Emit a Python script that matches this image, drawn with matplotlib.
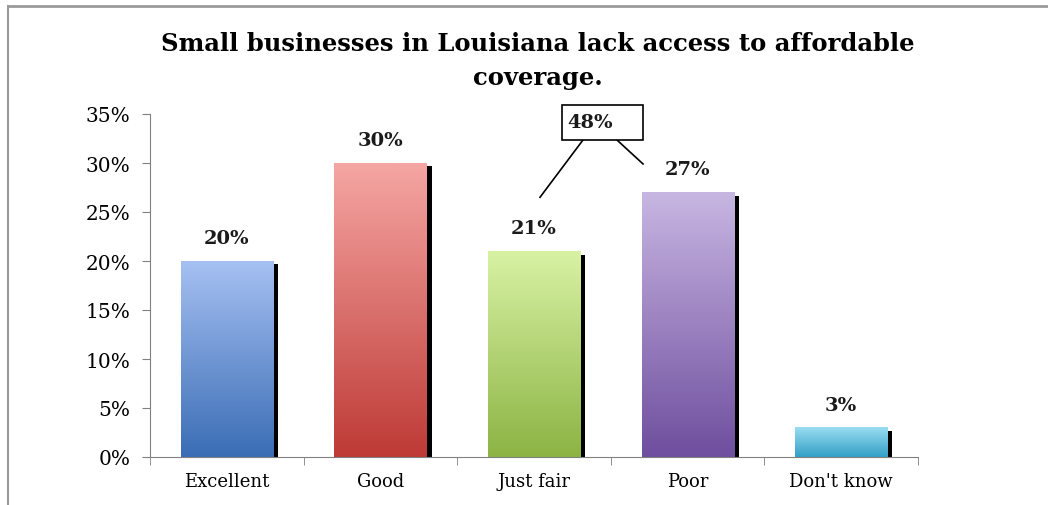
import matplotlib
matplotlib.use("Agg")
import matplotlib.pyplot as plt
import numpy as np
from matplotlib.colors import LinearSegmentedColormap
from matplotlib.patches import Rectangle

categories = ["Excellent", "Good", "Just fair", "Poor", "Don't know"]
values = [20, 30, 21, 27, 3]
top_colors = ["#A6C0F2", "#F5A6A3", "#D8F2A4", "#C8B6E2", "#9ADCF2"]
bottom_colors = ["#3A6DB5", "#BE3A36", "#8CB444", "#6E4E9E", "#33A0C6"]
title = "Small businesses in Louisiana lack access to affordable\ncoverage."

plt.rcParams["font.family"] = ["DejaVu Serif"]

fig = plt.figure(figsize=(10.48, 5.06), dpi=100)
ax = fig.add_axes([150 / 1048, (506 - 458) / 506, 768 / 1048, (458 - 115) / 506])

# outer chart frame (partially visible)
fig.add_artist(plt.Line2D([8 / 1048, 1], [1 - 7 / 506, 1 - 7 / 506], color="#9a9a9a", lw=2.0, transform=fig.transFigure))
fig.add_artist(plt.Line2D([8 / 1048, 8 / 1048], [0, 1 - 7 / 506], color="#9a9a9a", lw=1.5, transform=fig.transFigure))

width = 0.6
x = np.arange(len(categories))
for i, v in enumerate(values):
    # shadow
    ax.add_patch(Rectangle((x[i] - width / 2 + 0.033, 0), width, v - 0.35,
                           facecolor="black", edgecolor="none", zorder=1))
    cmap = LinearSegmentedColormap.from_list("g%d" % i, [bottom_colors[i], top_colors[i]])
    grad = np.linspace(0, 1, 256).reshape(-1, 1)
    ax.imshow(grad, cmap=cmap, origin="lower", aspect="auto",
              extent=(x[i] - width / 2, x[i] + width / 2, 0, v), zorder=2)
    ax.text(x[i], v + 2.35, "%d%%" % v, ha="center", va="center",
            fontsize=14, fontweight="bold", color="#1a1a1a")

ax.set_xlim(-0.5, len(categories) - 0.5)
ax.set_ylim(0, 35)
ax.set_yticks(np.arange(0, 36, 5))
ax.set_yticklabels(["%d%%" % t for t in range(0, 36, 5)], fontsize=14.5)
ax.set_xticks(x)
ax.set_xticklabels(categories, fontsize=13)
ax.set_xticks(np.arange(-0.5, len(categories), 1), minor=True)
ax.tick_params(axis="x", which="major", length=0, pad=11)
ax.tick_params(axis="x", which="minor", length=6, direction="out", color="#808080")
ax.tick_params(axis="y", length=6, direction="out", color="#808080", pad=8)
for s in ["top", "right"]:
    ax.spines[s].set_visible(False)
for s in ["left", "bottom"]:
    ax.spines[s].set_color("#808080")

# combined "fair + poor" callout
combined = values[2] + values[3]
ax.add_patch(Rectangle((2.182, 32.35), 0.528, 3.57, facecolor="white",
                       edgecolor="black", lw=1.2, clip_on=False, zorder=4))
ax.text(2.215, 34.2, "%d%%" % combined, ha="left", va="center", fontsize=14,
        fontweight="bold", color="#1a1a1a", zorder=5)
ax.plot([2.319, 2.039], [32.35, 26.5], color="black", lw=1.2, clip_on=False)
ax.plot([2.54, 2.71], [32.35, 29.9], color="black", lw=1.2, clip_on=False)

fig.text(538 / 1048, 1 - 61 / 506, title, ha="center", va="center", fontsize=17.5,
         fontweight="bold", linespacing=1.5)

fig.savefig("out.png", dpi=100)
